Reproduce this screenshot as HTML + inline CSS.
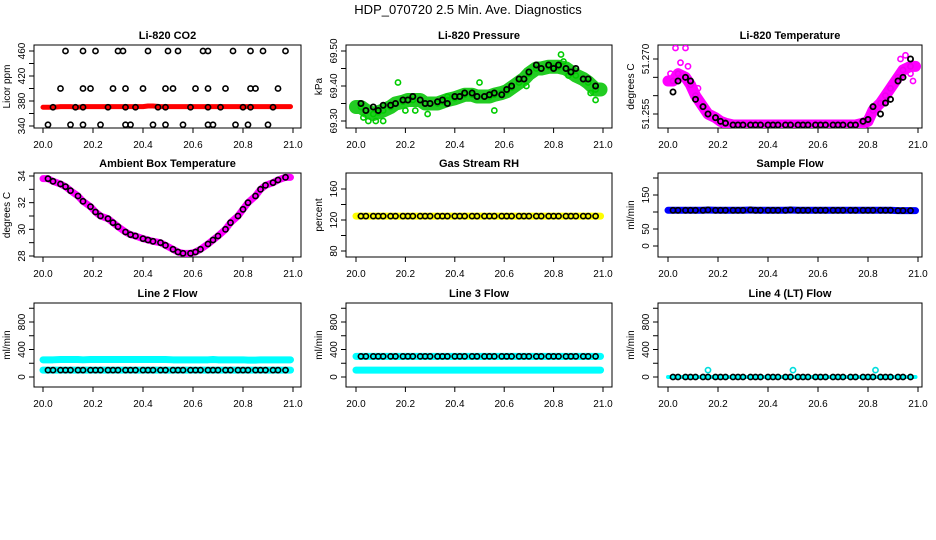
<!DOCTYPE html>
<html><head><meta charset="utf-8"><style>
body{margin:0;background:#fff;}
svg{display:block;font-family:"Liberation Sans",sans-serif;}
</style></head><body>
<svg id="c" width="936" height="540" xmlns="http://www.w3.org/2000/svg">
<text x="468" y="14" text-anchor="middle" font-size="13">HDP_070720  2.5 Min. Ave. Diagnostics</text>
</svg>
<script>
const grid=[20.02,20.04,20.07,20.09,20.11,20.14,20.16,20.19,20.21,20.23,20.26,20.28,20.30,20.33,20.35,20.37,20.40,20.42,20.44,20.47,20.49,20.52,20.54,20.56,20.59,20.61,20.63,20.66,20.68,20.70,20.73,20.75,20.78,20.80,20.82,20.85,20.87,20.89,20.92,20.94,20.97];
const xTicks=[20.0,20.2,20.4,20.6,20.8,21.0];
const co2BlackT=[20.09,20.16,20.21,20.30,20.32,20.42,20.50,20.54,20.64,20.66,20.76,20.83,20.88,20.97,20.07,20.16,20.19,20.28,20.33,20.40,20.49,20.52,20.61,20.66,20.73,20.83,20.85,20.94,20.04,20.13,20.16,20.26,20.33,20.37,20.46,20.49,20.59,20.66,20.71,20.80,20.83,20.92,20.02,20.11,20.16,20.23,20.33,20.35,20.44,20.49,20.56,20.66,20.68,20.77,20.82,20.90];
const co2BlackV=[460,460,460,460,460,460,460,460,460,460,460,460,460,460,400,400,400,400,400,400,400,400,400,400,400,400,400,400,370,370,370,370,370,370,370,370,370,370,370,370,370,370,342,342,342,342,342,342,342,342,342,342,342,342,342,342];
const co2Red=[370,370,371,371,371,370,371,371,371,371,371,371,371,371,371,371,371,372,372,371,371,371,371,371,371,371,371,371,371,371,371,371,371,371,371,371,371,371,371,371,371];
const presBlack=[69.35,69.33,69.34,69.33,69.345,69.345,69.35,69.36,69.36,69.37,69.36,69.35,69.35,69.355,69.36,69.35,69.37,69.37,69.38,69.38,69.37,69.37,69.375,69.38,69.375,69.39,69.40,69.42,69.42,69.44,69.46,69.45,69.46,69.45,69.46,69.45,69.44,69.45,69.42,69.42,69.40];
const presGreen=[69.34,69.33,69.32,69.325,69.33,69.34,69.35,69.355,69.36,69.36,69.36,69.35,69.35,69.35,69.355,69.36,69.365,69.37,69.375,69.375,69.37,69.37,69.37,69.375,69.38,69.385,69.395,69.41,69.42,69.435,69.45,69.45,69.455,69.455,69.455,69.45,69.44,69.43,69.42,69.41,69.39];
const presOutT=[20.03,20.05,20.08,20.11,20.17,20.20,20.24,20.29,20.37,20.50,20.56,20.69,20.83,20.84,20.86,20.95,20.97];
const presOutV=[69.31,69.30,69.30,69.30,69.41,69.33,69.33,69.32,69.37,69.41,69.33,69.40,69.49,69.47,69.43,69.38,69.36];
const tempMag=[51.264,51.266,51.265,51.263,51.260,51.257,51.255,51.254,51.253,51.2525,51.252,51.252,51.252,51.252,51.252,51.252,51.252,51.252,51.252,51.252,51.252,51.252,51.252,51.252,51.252,51.252,51.252,51.252,51.252,51.252,51.252,51.252,51.2525,51.253,51.256,51.258,51.260,51.262,51.265,51.267,51.268];
const tempBlack=[51.261,51.264,51.265,51.264,51.259,51.257,51.255,51.254,51.253,51.2525,51.252,51.252,51.252,51.252,51.252,51.252,51.252,51.252,51.252,51.252,51.252,51.252,51.252,51.252,51.252,51.252,51.252,51.252,51.252,51.252,51.252,51.252,51.253,51.2535,51.257,51.255,51.258,51.259,51.264,51.265,51.270];
const tempOutT=[20.01,20.03,20.05,20.07,20.08,20.12,20.93,20.95,20.97,20.98];
const tempOutV=[51.266,51.273,51.269,51.273,51.268,51.262,51.270,51.271,51.266,51.264];
const ambVals=[33.8,33.6,33.4,33.2,32.9,32.5,32.1,31.7,31.3,31.0,30.8,30.5,30.2,29.8,29.6,29.5,29.3,29.2,29.1,29.0,28.8,28.5,28.3,28.2,28.2,28.3,28.5,28.9,29.2,29.5,30.0,30.5,31.0,31.5,32.0,32.5,33.0,33.3,33.5,33.7,33.9];
const rhVals=[125,125,125,125,125,125,125,125,125,125,125,125,125,125,125,125,125,125,125,125,125,125,125,125,125,125,125,125,125,125,125,125,125,125,125,125,125,125,125,125,125];
const sampleVals=[105,105,105,105,105,105,106,105,105,105,105,105,105,106,105,105,105,105,105,105,106,105,105,105,105,105,105,105,105,105,105,105,105,105,105,105,105,105,104,104,104];
const line2Hi=[250,250,255,255,255,255,250,255,255,255,255,255,255,255,255,255,255,255,255,255,255,250,250,250,250,250,250,250,255,250,250,250,250,250,245,245,250,250,250,250,250];
const line2Lo=[100,100,100,100,100,100,100,100,100,100,100,100,100,100,100,100,100,100,100,100,100,100,100,100,100,100,100,100,100,100,100,100,100,100,100,100,100,100,100,100,100];
const line3Hi=[300,300,300,300,300,300,300,300,300,300,300,300,300,300,300,300,300,300,300,300,300,300,300,300,300,300,300,300,300,300,300,300,300,300,300,300,300,300,300,300,300];
const line3Lo=[100,100,100,100,100,100,100,100,100,100,100,100,100,100,100,100,100,100,100,100,100,100,100,100,100,100,100,100,100,100,100,100,100,100,100,100,100,100,100,100,100];
const line4Vals=[0,0,0,0,0,0,0,0,0,0,0,0,0,0,0,0,0,0,0,0,0,0,0,0,0,0,0,0,0,0,0,0,0,0,0,0,0,0,0,0,0];
const line4OutT=[20.16,20.50,20.83];
const line4OutV=[100,100,100];

const NS="http://www.w3.org/2000/svg";
const svg=document.getElementById('c');
function mk(tag,attrs,parent){const e=document.createElementNS(NS,tag);for(const k in attrs)e.setAttribute(k,attrs[k]);(parent||svg).appendChild(e);return e;}
const cols=[{l:34,r:301,x0:43,x1:293},{l:346,r:612,x0:356,x1:603},{l:658,r:922,x0:668,x1:918}];
const rows=[{t:45,b:128},{t:173,b:257},{t:303,b:387}];

function panel(ci,ri,title,ylab,ytick,ylabels,vTop,yTop,vBot,yBot,name){
  const c=cols[ci],r=rows[ri];
  const g=mk('g',{});
  
  
  const sx=v=>c.x0+(v-20)*(c.x1-c.x0);
  const sy=v=>yTop+(v-vTop)*(yBot-yTop)/(vBot-vTop);
  const box=mk('rect',{x:c.l,y:r.t,width:c.r-c.l,height:r.b-r.t,fill:'none',stroke:'#000','stroke-width':1},g);
  
  
  const tt=mk('text',{x:(c.l+c.r)/2,y:r.t-6,'text-anchor':'middle','font-size':11,'font-weight':'bold'},g);
  tt.textContent=title;
  
  
  const yl=mk('text',{transform:`translate(${c.l-24},${(r.t+r.b)/2}) rotate(-90)`,'text-anchor':'middle','font-size':10},g);
  yl.textContent=ylab;
  
  
  xTicks.forEach(v=>{
    const x=sx(v);
    mk('line',{x1:x,x2:x,y1:r.b,y2:r.b+5,stroke:'#000'},g);
    const t=mk('text',{x:x,y:r.b+20,'text-anchor':'middle','font-size':10},g);
    t.textContent=v.toFixed(1);
    
    
  });
  ytick.forEach((v,i)=>{
    const y=sy(v);
    mk('line',{x1:c.l-5,x2:c.l,y1:y,y2:y,stroke:'#000'},g);
    if(ylabels[i]){
      const t=mk('text',{transform:`translate(${c.l-9},${y}) rotate(-90)`,'text-anchor':'middle','font-size':10},g);
      t.textContent=ylabels[i];
      
      
    }
  });
  const clip='clip'+ci+ri;
  const cp=mk('clipPath',{id:clip},g);mk('rect',{x:c.l,y:r.t,width:c.r-c.l,height:r.b-r.t},cp);
  const pg=mk('g',{'clip-path':`url(#${clip})`},g);
  return {sx,sy,g:pg};
}
function band(p,ts,vs,color,w,name){
  const pts=ts.map((t,i)=>p.sx(t)+','+p.sy(vs[i]));
  pts.unshift(p.sx(20.0)+','+p.sy(vs[0]));
  pts.push(p.sx(20.99)+','+p.sy(vs[vs.length-1]));
  const pl=mk('polyline',{points:pts.join(' '),fill:'none',stroke:color,'stroke-width':w,'stroke-linejoin':'round','stroke-linecap':'round'},p.g);
  
  
}
function pts(p,ts,vs,color,name,sw){
  ts.forEach((t,i)=>{
    const e=mk('circle',{cx:p.sx(t),cy:p.sy(vs[i]),r:2.6,fill:'none',stroke:color,'stroke-width':sw||1.6},p.g);
    
    
  });
}

let p;
p=panel(0,0,'Li-820 CO2','Licor ppm',[340,360,380,400,420,440,460],['340','','380','','420','','460'],460,51,340,126,'panel-co2');
band(p,grid,co2Red,'#f00',5,'co2-red-band');
pts(p,co2BlackT,co2BlackV,'#000','co2-point');

p=panel(1,0,'Li-820 Pressure','kPa',[69.30,69.35,69.40,69.45,69.50],['69.30','','69.40','','69.50'],69.50,51,69.30,121,'panel-pressure');
band(p,grid,presGreen,'#2c2',14,'pressure-green-band');
pts(p,grid,presGreen,'#0c0','pressure-green-point');
pts(p,presOutT,presOutV,'#0c0','pressure-green-outlier');
pts(p,grid,presBlack,'#000','pressure-point',1.8);

p=panel(2,0,'Li-820 Temperature','degrees C',[51.255,51.260,51.265,51.270],['51.255','','','51.270'],51.270,59,51.255,114,'panel-temperature');
band(p,grid,tempMag,'#f0f',11,'temp-magenta-band');
pts(p,grid,tempMag,'#e0e','temp-magenta-point');
pts(p,tempOutT,tempOutV,'#f0f','temp-magenta-outlier');
pts(p,grid,tempBlack,'#000','temp-point',1.8);

p=panel(0,1,'Ambient Box Temperature','degrees C',[28,29,30,31,32,33,34],['28','','30','','32','','34'],34,176,28,256,'panel-ambient');
band(p,grid,ambVals,'#f0f',7,'ambient-magenta-line');
pts(p,grid,ambVals,'#000','ambient-point',1.6);

p=panel(1,1,'Gas Stream RH','percent',[160,140,120,100,80],['160','','120','','80'],160,189,80,251,'panel-rh');
band(p,grid,rhVals,'#ff0',7,'rh-yellow-line');
pts(p,grid,rhVals,'#000','rh-point');

p=panel(2,1,'Sample Flow','ml/min',[0,50,100,150,200],['0','50','','150',''],150,195,0,246,'panel-sample-flow');
band(p,grid,sampleVals,'#00f',7,'sample-blue-line');
pts(p,grid,sampleVals,'#000','sample-point');

p=panel(0,2,'Line 2 Flow','ml/min',[0,200,400,600,800,1000],['0','','400','','800',''],800,322,0,377,'panel-line2');
band(p,grid,line2Hi,'#0ff',7,'line2-cyan-high');
band(p,grid,line2Lo,'#0ff',7,'line2-cyan-low');
pts(p,grid,line2Lo,'#000','line2-point');

p=panel(1,2,'Line 3 Flow','ml/min',[0,200,400,600,800,1000],['0','','400','','800',''],800,322,0,377,'panel-line3');
band(p,grid,line3Lo,'#0ff',7,'line3-cyan-low');
band(p,grid,line3Hi,'#0ff',7,'line3-cyan-high');
pts(p,grid,line3Hi,'#000','line3-point');

p=panel(2,2,'Line 4 (LT) Flow','ml/min',[0,200,400,600,800,1000],['0','','400','','800',''],800,322,0,377,'panel-line4');
band(p,grid,line4Vals,'#0ff',4,'line4-cyan-line');
pts(p,grid,line4Vals,'#000','line4-point');
pts(p,line4OutT,line4OutV,'#0dd','line4-cyan-outlier');
</script>
</body></html>
